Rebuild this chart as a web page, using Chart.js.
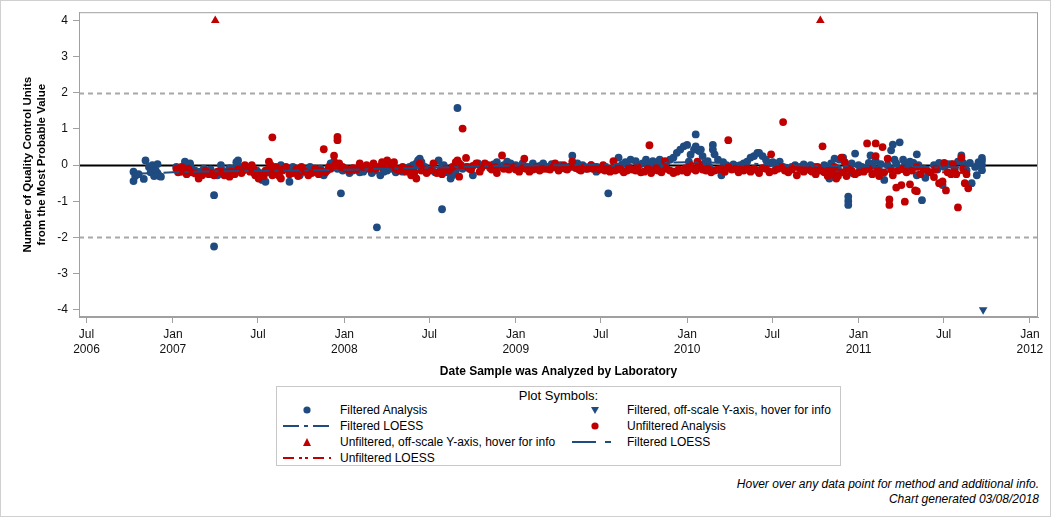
<!DOCTYPE html>
<html><head><meta charset="utf-8">
<script src="https://cdn.jsdelivr.net/npm/chart.js@4.4.1/dist/chart.umd.min.js"></script>
<style>
html,body{margin:0;padding:0;background:#fff;}
body{width:1056px;height:518px;position:relative;overflow:hidden;font-family:"Liberation Sans",Arial,sans-serif;color:#000;}
#frame{position:absolute;left:0;top:0;width:1049px;height:515px;border:1px solid #d0d0d0;box-sizing:content-box;}
#wrap{position:absolute;left:0;top:0;width:1056px;height:385px;}
#legend{position:absolute;left:276px;top:386px;width:563px;height:78px;border:1px solid #c8c8c8;}
.lt{position:absolute;font-size:12px;line-height:14px;white-space:nowrap;}
.sym{position:absolute;}
.foot{position:absolute;right:17px;font-size:12px;font-style:italic;white-space:nowrap;line-height:14px;}
</style>
</head><body>
<div id="frame"></div>
<div id="wrap"><canvas id="c" width="1056" height="385"></canvas></div>
<div id="legend"></div>
<div id="symbols"></div>
<div class="foot" style="top:477px;">Hover over any data point for method and additional info.</div>
<div class="foot" style="top:492px;">Chart generated 03/08/2018</div>
<script>
// ---- data (decimal year, QC units from MPV) ----
const filteredAnalysis = [
[2006.77,-0.18],[2006.77,-0.44],[2006.78,-0.30],[2006.80,-0.25],[2006.83,-0.38],[2006.84,0.13],[2006.86,-0.05],[2006.87,-0.20],[2006.88,0.00],[2006.89,-0.30],[2006.90,-0.15],[2006.91,0.03],[2006.91,-0.22],[2006.92,-0.30],[2006.93,-0.32],
[2007.02,-0.05],[2007.04,-0.18],[2007.05,-0.12],[2007.07,0.10],[2007.08,-0.08],[2007.10,0.05],[2007.11,-0.10],[2007.13,-0.15],[2007.16,-0.18],[2007.18,-0.10],[2007.20,-0.23],[2007.22,-0.12],[2007.24,-0.83],[2007.24,-2.25],[2007.26,-0.28],[2007.28,0.00],[2007.29,-0.15],[2007.31,-0.18],[2007.33,-0.08],[2007.35,-0.10],[2007.37,0.08],[2007.38,0.13],[2007.39,-0.05],[2007.41,-0.15],[2007.44,-0.10],[2007.47,-0.20],[2007.49,-0.15],[2007.52,-0.41],[2007.54,-0.46],[2007.56,-0.20],[2007.58,-0.10],[2007.60,-0.25],[2007.63,0.00],[2007.64,-0.15],[2007.66,-0.10],[2007.68,-0.46],[2007.70,-0.05],[2007.72,-0.20],[2007.74,-0.28],[2007.76,-0.10],[2007.78,-0.18],[2007.80,-0.05],[2007.82,-0.15],[2007.84,-0.18],[2007.86,-0.10],[2007.88,-0.28],[2007.90,-0.15],[2007.92,0.05],[2007.94,0.10],[2007.96,-0.10],[2007.98,-0.78],[2007.99,-0.15],
[2008.01,-0.12],[2008.03,-0.22],[2008.05,-0.15],[2008.07,-0.10],[2008.09,-0.20],[2008.11,-0.18],[2008.14,-0.10],[2008.16,-0.22],[2008.18,-0.15],[2008.19,-1.72],[2008.21,-0.28],[2008.23,-0.18],[2008.25,-0.15],[2008.28,-0.10],[2008.30,-0.20],[2008.32,-0.12],[2008.34,-0.18],[2008.36,-0.10],[2008.38,-0.05],[2008.40,0.00],[2008.42,0.05],[2008.43,0.13],[2008.44,0.18],[2008.45,0.08],[2008.47,-0.05],[2008.49,-0.15],[2008.51,-0.10],[2008.53,-0.20],[2008.55,0.13],[2008.57,-0.05],[2008.57,-1.22],[2008.58,0.00],[2008.60,-0.20],[2008.62,-0.37],[2008.63,-0.28],[2008.65,-0.15],[2008.66,1.58],[2008.67,0.05],[2008.69,-0.10],[2008.71,-0.05],[2008.73,-0.10],[2008.75,-0.28],[2008.78,0.05],[2008.80,-0.05],[2008.82,0.00],[2008.85,-0.08],[2008.87,0.02],[2008.89,0.08],[2008.91,-0.05],[2008.93,0.00],[2008.95,0.10],[2008.97,0.05],
[2009.00,0.00],[2009.02,-0.08],[2009.04,0.05],[2009.07,-0.05],[2009.10,0.05],[2009.12,-0.10],[2009.14,-0.02],[2009.16,0.05],[2009.19,-0.05],[2009.21,0.03],[2009.24,-0.08],[2009.26,0.00],[2009.29,-0.10],[2009.32,-0.05],[2009.33,0.26],[2009.36,0.05],[2009.38,-0.08],[2009.39,0.00],[2009.41,-0.10],[2009.44,0.00],[2009.47,-0.18],[2009.49,-0.08],[2009.51,-0.05],[2009.54,-0.78],[2009.56,-0.10],[2009.58,-0.02],[2009.60,0.21],[2009.62,0.02],[2009.64,0.08],[2009.66,-0.05],[2009.67,0.15],[2009.70,0.11],[2009.72,0.00],[2009.74,0.05],[2009.76,0.15],[2009.78,0.02],[2009.80,0.11],[2009.82,0.05],[2009.84,0.15],[2009.86,0.00],[2009.88,0.08],[2009.90,0.15],[2009.92,0.21],[2009.94,0.34],[2009.96,0.43],[2009.98,0.52],
[2010.00,0.56],[2010.01,0.10],[2010.02,0.29],[2010.04,0.43],[2010.05,0.85],[2010.05,0.52],[2010.07,0.39],[2010.08,0.43],[2010.09,0.25],[2010.10,0.05],[2010.12,0.11],[2010.13,-0.05],[2010.15,0.56],[2010.15,0.43],[2010.16,0.30],[2010.18,0.15],[2010.20,-0.28],[2010.21,0.08],[2010.23,0.00],[2010.25,-0.05],[2010.27,0.02],[2010.29,-0.08],[2010.31,0.00],[2010.33,0.05],[2010.35,0.10],[2010.37,0.21],[2010.39,0.25],[2010.41,0.34],[2010.42,0.34],[2010.44,0.25],[2010.46,0.15],[2010.48,0.05],[2010.50,0.08],[2010.52,0.00],[2010.54,0.10],[2010.56,-0.05],[2010.58,-0.10],[2010.61,-0.05],[2010.63,0.00],[2010.66,-0.05],[2010.68,0.02],[2010.70,-0.10],[2010.72,0.00],[2010.74,-0.05],[2010.77,-0.08],[2010.80,0.00],[2010.82,-0.15],[2010.83,-0.37],[2010.84,0.05],[2010.86,0.18],[2010.87,-0.18],[2010.88,-0.10],[2010.89,0.15],[2010.91,0.21],[2010.93,-0.05],[2010.94,-0.87],[2010.94,-0.99],[2010.94,-1.10],[2010.96,0.05],[2010.97,-0.23],[2010.98,0.32],
[2011.00,0.00],[2011.02,-0.05],[2011.04,-0.12],[2011.06,0.06],[2011.07,0.27],[2011.08,-0.02],[2011.10,0.12],[2011.12,-0.14],[2011.13,0.03],[2011.15,-0.41],[2011.17,0.00],[2011.19,0.41],[2011.20,0.57],[2011.21,0.15],[2011.22,0.05],[2011.24,0.63],[2011.25,-0.10],[2011.26,0.15],[2011.27,0.00],[2011.29,-0.05],[2011.30,0.10],[2011.32,0.06],[2011.34,0.30],[2011.34,-0.28],[2011.35,0.00],[2011.37,-0.97],[2011.38,-0.12],[2011.39,-0.35],[2011.41,-0.20],[2011.44,0.00],[2011.46,-0.12],[2011.47,0.06],[2011.49,-0.55],[2011.50,-0.05],[2011.52,0.03],[2011.54,0.03],[2011.56,-0.12],[2011.58,0.10],[2011.60,0.27],[2011.61,0.06],[2011.62,-0.05],[2011.63,-0.14],[2011.65,0.06],[2011.66,-0.50],[2011.68,-0.05],[2011.69,-0.28],[2011.70,0.08],[2011.72,0.20],[2011.72,0.12],[2011.72,0.00],[2011.72,-0.14]
];
const unfilteredAnalysis = [
[2007.02,-0.10],[2007.03,-0.20],[2007.05,-0.05],[2007.06,-0.18],[2007.08,-0.25],[2007.09,-0.10],[2007.11,-0.20],[2007.13,-0.23],[2007.15,-0.37],[2007.17,-0.28],[2007.19,-0.15],[2007.21,-0.25],[2007.22,-0.22],[2007.24,-0.28],[2007.26,-0.18],[2007.28,-0.18],[2007.30,-0.28],[2007.32,-0.20],[2007.33,-0.32],[2007.34,-0.18],[2007.36,-0.25],[2007.38,-0.12],[2007.40,-0.22],[2007.42,0.00],[2007.43,-0.10],[2007.45,-0.18],[2007.46,0.00],[2007.47,-0.10],[2007.48,-0.28],[2007.50,-0.37],[2007.51,-0.22],[2007.53,-0.30],[2007.54,-0.15],[2007.56,0.10],[2007.56,-0.10],[2007.57,0.00],[2007.58,-0.28],[2007.58,0.77],[2007.59,-0.20],[2007.60,-0.05],[2007.61,-0.18],[2007.62,-0.30],[2007.63,-0.37],[2007.64,-0.12],[2007.66,-0.05],[2007.68,-0.25],[2007.70,-0.22],[2007.72,-0.10],[2007.73,-0.30],[2007.75,-0.05],[2007.77,-0.18],[2007.79,-0.28],[2007.81,-0.22],[2007.83,-0.10],[2007.85,-0.25],[2007.86,-0.15],[2007.88,0.44],[2007.89,-0.20],[2007.91,-0.05],[2007.92,-0.10],[2007.94,0.26],[2007.95,0.05],[2007.96,0.78],[2007.96,0.69],[2007.97,0.05],[2007.98,-0.05],[2007.99,-0.05],
[2008.01,-0.10],[2008.03,-0.15],[2008.05,-0.08],[2008.07,-0.12],[2008.09,0.05],[2008.11,-0.05],[2008.13,0.00],[2008.15,-0.10],[2008.17,0.05],[2008.18,-0.10],[2008.20,-0.05],[2008.22,0.08],[2008.24,-0.02],[2008.25,0.13],[2008.27,0.05],[2008.29,0.08],[2008.30,-0.10],[2008.32,-0.15],[2008.34,-0.05],[2008.36,-0.18],[2008.38,-0.10],[2008.39,-0.28],[2008.41,-0.20],[2008.42,-0.37],[2008.44,0.05],[2008.45,-0.15],[2008.46,-0.10],[2008.48,-0.22],[2008.50,-0.15],[2008.52,0.05],[2008.54,-0.22],[2008.56,-0.15],[2008.57,-0.25],[2008.59,-0.10],[2008.61,-0.15],[2008.63,-0.05],[2008.65,0.08],[2008.66,0.13],[2008.67,-0.32],[2008.68,0.00],[2008.69,1.01],[2008.71,0.20],[2008.72,-0.05],[2008.74,-0.12],[2008.75,-0.02],[2008.77,0.05],[2008.79,-0.18],[2008.80,-0.08],[2008.82,0.05],[2008.84,0.00],[2008.86,-0.12],[2008.88,-0.05],[2008.89,-0.22],[2008.92,0.27],[2008.93,-0.10],[2008.95,-0.05],[2008.96,-0.12],[2008.99,-0.05],
[2009.00,-0.12],[2009.02,-0.18],[2009.04,-0.08],[2009.05,0.18],[2009.06,-0.10],[2009.08,-0.18],[2009.10,-0.12],[2009.12,-0.05],[2009.14,-0.15],[2009.16,-0.10],[2009.18,-0.10],[2009.20,-0.12],[2009.22,-0.05],[2009.23,0.05],[2009.25,-0.15],[2009.27,-0.08],[2009.28,0.00],[2009.30,-0.12],[2009.31,-0.05],[2009.33,0.10],[2009.35,-0.08],[2009.37,-0.12],[2009.38,-0.15],[2009.40,-0.05],[2009.42,-0.10],[2009.44,0.00],[2009.45,-0.10],[2009.47,-0.05],[2009.49,-0.12],[2009.51,0.00],[2009.52,-0.15],[2009.54,-0.10],[2009.55,-0.18],[2009.57,0.11],[2009.58,-0.15],[2009.60,-0.05],[2009.61,-0.12],[2009.63,-0.20],[2009.65,-0.15],[2009.66,-0.08],[2009.68,-0.12],[2009.70,-0.15],[2009.71,-0.05],[2009.73,-0.20],[2009.75,-0.18],[2009.77,-0.10],[2009.78,0.55],[2009.79,-0.22],[2009.80,-0.15],[2009.82,-0.08],[2009.83,-0.15],[2009.85,-0.20],[2009.87,0.11],[2009.88,-0.10],[2009.90,-0.15],[2009.92,-0.22],[2009.94,-0.18],[2009.95,-0.12],[2009.97,-0.15],[2009.99,-0.08],
[2010.00,-0.20],[2010.02,0.00],[2010.03,-0.10],[2010.05,-0.15],[2010.06,0.10],[2010.07,0.00],[2010.09,-0.12],[2010.11,-0.15],[2010.12,-0.10],[2010.14,-0.20],[2010.16,-0.15],[2010.18,-0.12],[2010.20,-0.10],[2010.22,-0.18],[2010.24,0.69],[2010.24,-0.05],[2010.26,-0.12],[2010.28,-0.10],[2010.30,-0.20],[2010.31,-0.12],[2010.33,-0.15],[2010.35,-0.08],[2010.37,-0.18],[2010.39,-0.10],[2010.41,-0.15],[2010.42,-0.22],[2010.44,-0.08],[2010.46,-0.10],[2010.48,-0.20],[2010.49,0.30],[2010.51,-0.15],[2010.53,-0.10],[2010.55,-0.05],[2010.56,1.19],[2010.57,-0.15],[2010.59,-0.20],[2010.61,-0.12],[2010.63,-0.05],[2010.64,-0.28],[2010.66,-0.10],[2010.68,-0.18],[2010.70,-0.10],[2010.72,-0.15],[2010.73,-0.18],[2010.75,-0.25],[2010.76,-0.05],[2010.78,-0.15],[2010.79,0.52],[2010.80,-0.20],[2010.82,-0.30],[2010.83,-0.12],[2010.85,-0.25],[2010.86,-0.05],[2010.87,-0.37],[2010.88,-0.30],[2010.90,0.21],[2010.91,-0.20],[2010.92,0.08],[2010.93,-0.30],[2010.94,-0.10],[2010.96,-0.15],[2010.98,-0.25],
[2011.00,-0.20],[2011.03,-0.18],[2011.05,0.60],[2011.06,-0.10],[2011.08,-0.25],[2011.10,0.60],[2011.10,0.25],[2011.11,-0.15],[2011.12,-0.30],[2011.14,0.50],[2011.15,-0.20],[2011.17,0.18],[2011.18,-0.95],[2011.18,-1.10],[2011.19,-0.12],[2011.20,-0.28],[2011.22,-0.62],[2011.23,-0.15],[2011.25,-0.55],[2011.26,-0.10],[2011.27,-1.01],[2011.28,-0.20],[2011.30,-0.53],[2011.31,-0.15],[2011.33,-0.70],[2011.34,-0.72],[2011.34,-0.05],[2011.36,-0.25],[2011.38,-0.10],[2011.40,-0.15],[2011.42,-0.20],[2011.44,-0.33],[2011.45,-0.10],[2011.47,-0.50],[2011.49,-0.45],[2011.50,0.06],[2011.51,-0.70],[2011.52,-0.20],[2011.54,-0.25],[2011.55,0.03],[2011.56,-0.12],[2011.57,-0.25],[2011.58,-1.17],[2011.60,0.21],[2011.61,-0.10],[2011.62,-0.50],[2011.63,-0.25],[2011.64,-0.64]
];
const filteredOffScale = [[2011.727,-4]];
const unfilteredOffScale = [[2007.247,4],[2010.777,4]];
const filteredLoess = [[2006.77,-0.24],[2007.0,-0.20],[2007.25,-0.17],[2007.5,-0.16],[2007.75,-0.15],[2008.0,-0.13],[2008.25,-0.10],[2008.5,-0.07],[2008.75,-0.04],[2009.0,-0.01],[2009.25,0.0],[2009.5,0.02],[2009.75,0.05],[2010.0,0.08],[2010.25,0.06],[2010.5,0.02],[2010.75,-0.02],[2011.0,-0.03],[2011.25,-0.04],[2011.5,-0.06],[2011.72,-0.08]];
const unfilteredLoess = [[2007.02,-0.20],[2007.25,-0.20],[2007.5,-0.18],[2007.75,-0.15],[2008.0,-0.08],[2008.25,-0.06],[2008.5,-0.10],[2008.75,-0.06],[2009.0,-0.07],[2009.25,-0.07],[2009.5,-0.08],[2009.75,-0.10],[2010.0,-0.10],[2010.25,-0.10],[2010.5,-0.10],[2010.75,-0.12],[2011.0,-0.14],[2011.25,-0.18],[2011.5,-0.20],[2011.64,-0.22]];
const xTickValues = [2006.496,2007,2007.496,2008,2008.496,2009,2009.496,2010,2010.496,2011,2011.496,2012];
const xTickLabels = [["Jul","2006"],["Jan","2007"],["Jul",""],["Jan","2008"],["Jul",""],["Jan","2009"],["Jul",""],["Jan","2010"],["Jul",""],["Jan","2011"],["Jul",""],["Jan","2012"]];
const yTickValues = [-4,-3,-2,-1,0,1,2,3,4];
const yTickLabels = ["-4","-3","-2","-1","0","1","2","3","4"];
const refLines = [{y:0,color:"#000",width:2,dash:[]},{y:2,color:"#a8a8a8",width:2,dash:[5,4]},{y:-2,color:"#a8a8a8",width:2,dash:[5,4]}];

const BLUE = "#1f4b80", RED = "#c00000";
const FONT = "'Liberation Sans', Arial, sans-serif";
const pts = a => a.map(p => ({x:p[0], y:p[1]}));

const refPlugin = {
  id:"refs",
  beforeDatasetsDraw(chart){
    const {ctx, chartArea:a, scales:{y}} = chart;
    ctx.save();
    refLines.forEach(r => {
      const py = Math.round(y.getPixelForValue(r.y)) + 0.5;
      ctx.beginPath(); ctx.strokeStyle = r.color; ctx.lineWidth = r.width; ctx.setLineDash(r.dash);
      ctx.moveTo(a.left, py); ctx.lineTo(a.right, py); ctx.stroke();
    });
    ctx.setLineDash([]); ctx.strokeStyle = "#a0a0a0"; ctx.lineWidth = 1;
    ctx.strokeRect(a.left + 0.5, a.top + 0.5, a.right - a.left - 1, a.bottom - a.top - 1);
    ctx.restore();
  }
};

new Chart(document.getElementById("c"), {
  type: "scatter",
  data: { datasets: [
    {label:"Filtered LOESS", data:pts(filteredLoess), showLine:true, borderColor:BLUE, borderWidth:2, borderDash:[16,5,4,5], pointRadius:0, order:0},
    {label:"Unfiltered LOESS", data:pts(unfilteredLoess), showLine:true, borderColor:RED, borderWidth:2, borderDash:[11,5,3,3,3,5], pointRadius:0, order:0},
    {label:"Filtered, off-scale Y-axis, hover for info", data:pts(filteredOffScale), pointStyle:"triangle", rotation:180, pointRadius:5, backgroundColor:BLUE, borderColor:BLUE, borderWidth:0, order:1},
    {label:"Unfiltered, off-scale Y-axis, hover for info", data:pts(unfilteredOffScale), pointStyle:"triangle", pointRadius:5, backgroundColor:RED, borderColor:RED, borderWidth:0, order:1},
    {label:"Unfiltered Analysis", data:pts(unfilteredAnalysis), pointRadius:3.9, backgroundColor:RED, borderWidth:0, order:2},
    {label:"Filtered Analysis", data:pts(filteredAnalysis), pointRadius:3.9, backgroundColor:BLUE, borderWidth:0, order:3}
  ]},
  options: {
    responsive:false, animation:false,
    layout:{padding:{top:12,right:18,left:0,bottom:0}},
    plugins:{legend:{display:false}},
    scales:{
      x:{type:"linear", min:2006.452, max:2012.047,
        afterBuildTicks:s=>{ s.ticks = xTickValues.map(v=>({value:v})); },
        afterFit:s=>{ s.height = 68; },
        ticks:{autoSkip:false, maxRotation:0, padding:4, color:"#111", font:{family:FONT,size:12,lineHeight:1.25}, callback:(v,i)=>xTickLabels[i]},
        grid:{drawOnChartArea:false, drawTicks:true, tickLength:6, color:"#a0a0a0"},
        border:{display:true, color:"#a0a0a0"},
        title:{display:true, text:"Date Sample was Analyzed by Laboratory", color:"#000", font:{family:FONT,size:12,weight:"bold"}, padding:{top:0,bottom:6}}
      },
      y:{type:"linear", min:-4.2, max:4.23,
        afterBuildTicks:s=>{ s.ticks = yTickValues.map(v=>({value:v})); },
        afterFit:s=>{ s.width = 79; },
        ticks:{padding:5, color:"#111", font:{family:FONT,size:12}, callback:(v,i)=>yTickLabels[i]},
        grid:{drawOnChartArea:false, drawTicks:true, tickLength:6, color:"#a0a0a0"},
        border:{display:true, color:"#a0a0a0"},
        title:{display:true, text:["Number of Quality Control Units","from the Most Probable Value"], color:"#000", font:{family:FONT,size:11.5,weight:"bold",lineHeight:1.2}, padding:{top:21,bottom:0}}
      }
    }
  },
  plugins:[refPlugin]
});

// ---- HTML legend ----
const legendTitle = "Plot Symbols:";
const legendItems = [
  {text:"Filtered Analysis", col:0, row:0, sym:"circle", color:BLUE},
  {text:"Filtered, off-scale Y-axis, hover for info", col:1, row:0, sym:"down", color:BLUE},
  {text:"Filtered LOESS", col:0, row:1, sym:"line", color:BLUE, dash:"16 5 4 5"},
  {text:"Unfiltered Analysis", col:1, row:1, sym:"circle", color:RED},
  {text:"Unfiltered, off-scale Y-axis, hover for info", col:0, row:2, sym:"up", color:RED},
  {text:"Filtered LOESS", col:1, row:2, sym:"line2", color:BLUE, dash:"24 9 6 40"},
  {text:"Unfiltered LOESS", col:0, row:3, sym:"line", color:RED, dash:"11 5 3 3 3 5"}
];
const colSym = [307, 595], colText = [340, 627], rowY = [410, 426, 442, 458];
let html = `<div class="lt" style="left:276px;width:565px;text-align:center;top:388px;font-size:13px;line-height:15px">${legendTitle}</div>`;
legendItems.forEach(it => {
  const cx = colSym[it.col], cy = rowY[it.row];
  let svg = "";
  if (it.sym === "circle") svg = `<svg class="sym" style="left:${cx-5}px;top:${cy-5}px" width="10" height="10"><circle cx="5" cy="5" r="3.6" fill="${it.color}"/></svg>`;
  else if (it.sym === "down") svg = `<svg class="sym" style="left:${cx-5}px;top:${cy-5}px" width="10" height="10"><polygon points="1,2 9,2 5,9" fill="${it.color}"/></svg>`;
  else if (it.sym === "up") svg = `<svg class="sym" style="left:${cx-5}px;top:${cy-5}px" width="10" height="10"><polygon points="1,9 9,9 5,1" fill="${it.color}"/></svg>`;
  else if (it.sym === "line") svg = `<svg class="sym" style="left:${cx-24}px;top:${cy-3}px" width="48" height="6"><line x1="0" y1="3" x2="48" y2="3" stroke="${it.color}" stroke-width="2" stroke-dasharray="${it.dash}"/></svg>`;
  else svg = `<svg class="sym" style="left:${cx-23}px;top:${cy-3}px" width="40" height="6"><line x1="0" y1="3" x2="40" y2="3" stroke="${it.color}" stroke-width="2" stroke-dasharray="${it.dash}"/></svg>`;
  html += svg + `<div class="lt" style="left:${colText[it.col]}px;top:${cy-7}px">${it.text}</div>`;
});
document.getElementById("symbols").innerHTML = html;
</script>
</body></html>
